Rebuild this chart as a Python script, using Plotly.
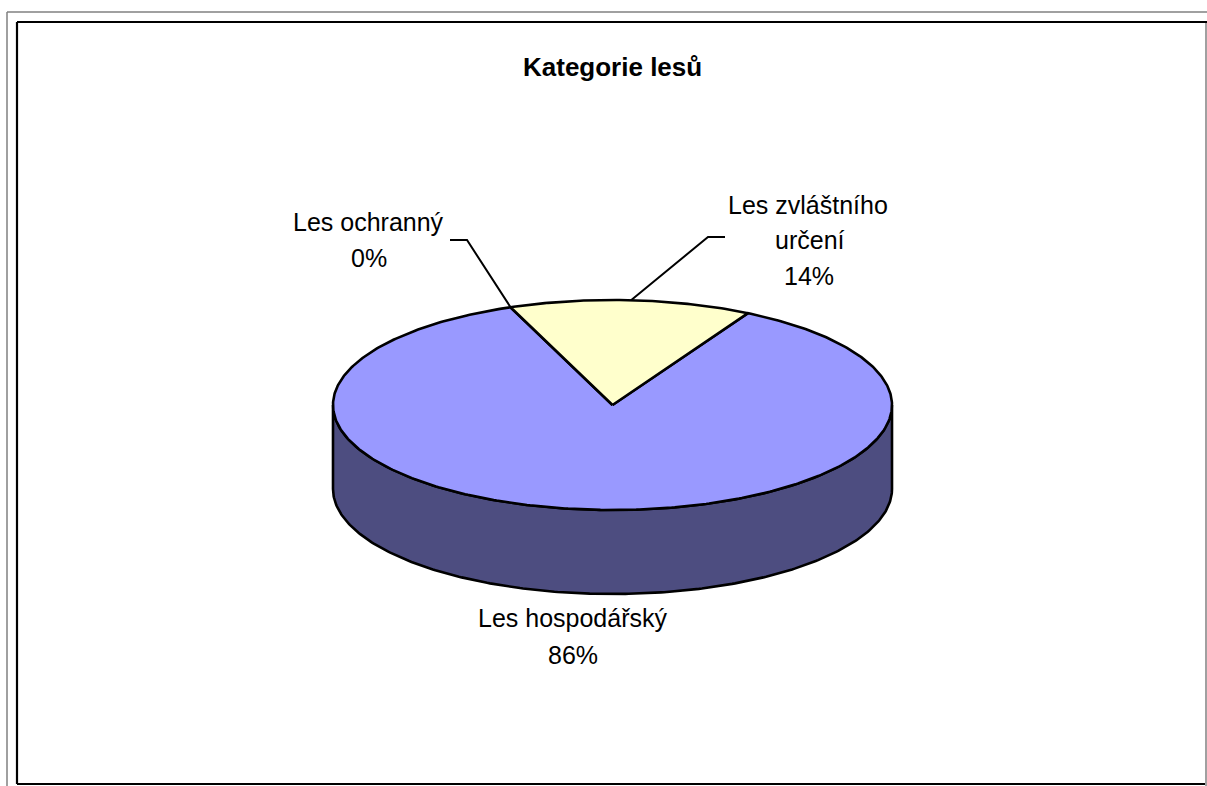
import math
import plotly.graph_objects as go

# ---- data (order as in the source sheet) ----
categories = ["Les hospodářský", "Les ochranný", "Les zvláštního určení"]
values = [86, 0, 14]
top_colors = ["#9999FF", "#993366", "#FFFFCC"]
side_colors = ["#4D4D80", "#4D1A33", "#80806A"]
title_text = "Kategorie lesů"

# ---- geometry / style (pixel space) ----
W, H = 1207, 786
cx, cy, rx, ry, depth = 612.5, 405.0, 279.5, 105.0, 84.0
start_deg = 29.0
FONT = "Liberation Sans, Arial, sans-serif"


def pt(theta_deg, dy=0.0):
    t = math.radians(theta_deg)
    return cx + rx * math.sin(t), cy - ry * math.cos(t) + dy


def arc(a0, a1, dy=0.0, n=None):
    if n is None:
        n = max(2, int(abs(a1 - a0) * 1.5))
    xs, ys = [], []
    for i in range(n + 1):
        x, y = pt(a0 + (a1 - a0) * i / n, dy)
        xs.append(x)
        ys.append(y)
    return xs, ys


total = sum(values)
spans = []
a = start_deg
for v in values:
    s = 360.0 * v / total
    spans.append((a, a + s))
    a += s

fig = go.Figure()

# side walls (front half of cylinder is visible: 90..270 deg clockwise from top)
for (a0, a1), col in zip(spans, side_colors):
    for lo, hi in ((90, 270), (450, 630), (-270, -90)):
        s, e = max(a0, lo), min(a1, hi)
        if e - s <= 0:
            continue
        tx, ty = arc(s, e)
        bx, by = arc(e, s, depth)
        fig.add_trace(go.Scatter(
            x=tx + bx + [tx[0]], y=ty + by + [ty[0]],
            mode="lines", fill="toself", fillcolor=col,
            line=dict(color="black", width=2.6), hoverinfo="skip", showlegend=False))

# top faces
for (a0, a1), col, name in zip(spans, top_colors, categories):
    if a1 - a0 <= 0:
        continue
    ax_, ay_ = arc(a0, a1)
    fig.add_trace(go.Scatter(
        x=[cx] + ax_ + [cx], y=[cy] + ay_ + [cy],
        mode="lines", fill="toself", fillcolor=col,
        line=dict(color="black", width=2.6), name=name,
        hoverinfo="name", showlegend=False))

# labels with leader lines
pct = [round(100 * v / total) for v in values]
label_cfg = {
    "Les ochranný": dict(lines=["Les ochranný", "{p}%"], xs=[368, 369], ys=[222, 258],
                          elbow=(467, 240), end=(450, 240)),
    "Les zvláštního určení": dict(lines=["Les zvláštního", "určení", "{p}%"],
                                   xs=[808, 810, 809], ys=[205, 240, 276],
                                   elbow=(708, 237), end=(725, 237)),
    "Les hospodářský": dict(lines=["Les hospodářský", "{p}%"], xs=[573, 573], ys=[618, 655]),
}
for (a0, a1), name, p in zip(spans, categories, pct):
    cfg = label_cfg[name]
    for txt, x, y in zip(cfg["lines"], cfg["xs"], cfg["ys"]):
        fig.add_annotation(x=x, y=y, xref="x", yref="y", text=txt.format(p=p),
                           showarrow=False, xanchor="center", yanchor="middle",
                           font=dict(family=FONT, size=25, color="black"))
    if "elbow" in cfg:
        mx, my = pt((a0 + a1) / 2)
        fig.add_trace(go.Scatter(
            x=[mx, cfg["elbow"][0], cfg["end"][0]], y=[my, cfg["elbow"][1], cfg["end"][1]],
            mode="lines", line=dict(color="black", width=2), hoverinfo="skip", showlegend=False))

fig.add_annotation(x=612, y=67, xref="x", yref="y", text="<b>" + title_text + "</b>",
                   showarrow=False, xanchor="center", yanchor="middle",
                   font=dict(family=FONT, size=26, color="black"))

# frame lines
grey = dict(color="#808080", width=1.5)
blk = dict(color="black", width=2.2)
shapes = [
    dict(type="line", x0=7, y0=12, x1=7, y1=786, line=grey),
    dict(type="line", x0=7, y0=12, x1=1207, y1=12, line=grey),
    dict(type="line", x0=1206, y0=22, x1=1206, y1=786, line=grey),
    dict(type="line", x0=17, y0=22, x1=17, y1=784, line=blk),
    dict(type="line", x0=17, y0=22, x1=1207, y1=22, line=blk),
    dict(type="line", x0=17, y0=784, x1=1205, y1=784, line=blk),
]
for s in shapes:
    s.update(xref="x", yref="y", layer="above")

fig.update_layout(
    width=W, height=H, margin=dict(l=0, r=0, t=0, b=0),
    paper_bgcolor="white", plot_bgcolor="white",
    xaxis=dict(range=[0, W], visible=False, fixedrange=True),
    yaxis=dict(range=[H, 0], visible=False, fixedrange=True),
    shapes=shapes, showlegend=False,
)

fig.write_html("out.html", config={"displayModeBar": False},
               post_script="document.body.style.margin='0';document.body.style.overflow='hidden';")
